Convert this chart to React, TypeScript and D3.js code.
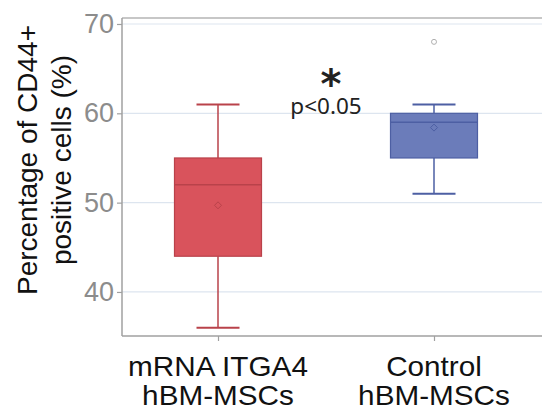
import React, { useEffect, useRef } from "react";
import * as d3 from "d3";

// box plot stats
const groups = ["mRNA ITGA4|hBM-MSCs", "Control|hBM-MSCs"];
const whiskerLow = [36, 51];
const q1 = [44, 55];
const median = [52, 59];
const q3 = [55, 60];
const whiskerHigh = [61, 61];
const means = [49.7, 58.4];
const outliers = [[], [68]];
const yTicks = [40, 50, 60, 70];

const fills = ["#d9535c", "#6b7cba"];
const strokes = ["#b9424a", "#4d5fa3"];

const W = 542;
const H = 411;
const LEFT = 122;
const TOP = 18;
const BOTTOM = 336;

const App = () => {
  const ref = useRef<SVGSVGElement>(null);

  useEffect(() => {
    const svg = d3.select(ref.current);
    svg.selectAll("*").remove();

    const y = d3.scaleLinear().domain([35.07, 70.67]).range([BOTTOM, TOP]);
    const x = d3.scalePoint().domain(groups).range([218, 434]);
    const boxW = 87;
    const capW = 43;

    // grid
    svg.append("g")
      .selectAll("line")
      .data(yTicks)
      .join("line")
      .attr("x1", LEFT)
      .attr("x2", W)
      .attr("y1", d => y(d))
      .attr("y2", d => y(d))
      .attr("stroke", "#dde5ef")
      .attr("stroke-width", 1.2);

    // top border
    svg.append("line")
      .attr("x1", LEFT).attr("x2", W)
      .attr("y1", TOP).attr("y2", TOP)
      .attr("stroke", "#b4b4b4").attr("stroke-width", 1.5);

    // y axis
    const yAxis = svg.append("g")
      .attr("transform", `translate(${LEFT},0)`)
      .call(d3.axisLeft(y).tickValues(yTicks).tickSize(5).tickPadding(3));
    yAxis.select(".domain").attr("stroke", "#a0a0a0").attr("stroke-width", 1.5)
      .attr("d", `M0,${TOP}V${BOTTOM}`);
    yAxis.selectAll(".tick line").attr("stroke", "#a0a0a0").attr("stroke-width", 1.2);
    yAxis.selectAll(".tick text")
      .attr("fill", "#8c8c8c")
      .attr("font-size", 27)
      .attr("font-family", "Liberation Sans, Arial, sans-serif");

    // x axis
    const xAxis = svg.append("g")
      .attr("transform", `translate(0,${BOTTOM})`)
      .call(d3.axisBottom(x).tickSize(5).tickFormat(() => ""));
    xAxis.select(".domain").attr("stroke", "#a0a0a0").attr("stroke-width", 1.5)
      .attr("d", `M${LEFT},0H${W}`);
    xAxis.selectAll(".tick line").attr("stroke", "#a0a0a0").attr("stroke-width", 1.2);

    // x labels
    groups.forEach(g => {
      const lines = g.split("|");
      const t = svg.append("text")
        .attr("text-anchor", "middle")
        .attr("font-size", 27)
        .attr("font-family", "Liberation Sans, Arial, sans-serif")
        .attr("fill", "#111")
        .attr("transform", `translate(${x(g)},0) scale(1.1,1)`);
      lines.forEach((l, i) => {
        t.append("tspan").attr("x", 0).attr("y", 376 + i * 29).text(l);
      });
    });

    // y title
    const yt = svg.append("text")
      .attr("text-anchor", "middle")
      .attr("font-size", 28)
      .attr("font-family", "Liberation Sans, Arial, sans-serif")
      .attr("fill", "#111")
      .attr("transform", "translate(37,160) rotate(-90)");
    yt.append("tspan").attr("x", 0).attr("y", 0).text("Percentage of CD44+");
    yt.append("tspan").attr("x", 0).attr("y", 34).text("positive cells (%)");

    // boxes
    groups.forEach((g, i) => {
      const cx = x(g)!;
      const gg = svg.append("g");
      gg.append("line")
        .attr("x1", cx).attr("x2", cx)
        .attr("y1", y(whiskerLow[i])).attr("y2", y(q1[i]))
        .attr("stroke", strokes[i]).attr("stroke-width", 1.5);
      gg.append("line")
        .attr("x1", cx).attr("x2", cx)
        .attr("y1", y(q3[i])).attr("y2", y(whiskerHigh[i]))
        .attr("stroke", strokes[i]).attr("stroke-width", 1.5);
      [whiskerLow[i], whiskerHigh[i]].forEach(v => {
        gg.append("line")
          .attr("x1", cx - capW / 2).attr("x2", cx + capW / 2)
          .attr("y1", y(v)).attr("y2", y(v))
          .attr("stroke", strokes[i]).attr("stroke-width", 2);
      });
      gg.append("rect")
        .attr("x", cx - boxW / 2)
        .attr("width", boxW)
        .attr("y", y(q3[i]))
        .attr("height", y(q1[i]) - y(q3[i]))
        .attr("fill", fills[i])
        .attr("stroke", strokes[i])
        .attr("stroke-width", 1.2);
      gg.append("line")
        .attr("x1", cx - boxW / 2).attr("x2", cx + boxW / 2)
        .attr("y1", y(median[i])).attr("y2", y(median[i]))
        .attr("stroke", strokes[i]).attr("stroke-width", 1.5);
      // mean diamond
      const my = y(means[i]);
      gg.append("path")
        .attr("d", `M${cx},${my - 3.5}L${cx + 3.5},${my}L${cx},${my + 3.5}L${cx - 3.5},${my}Z`)
        .attr("fill", "none")
        .attr("stroke", strokes[i])
        .attr("stroke-width", 1);
      outliers[i].forEach(o => {
        gg.append("circle")
          .attr("cx", cx).attr("cy", y(o)).attr("r", 2.5)
          .attr("fill", "none").attr("stroke", "#b0b0b0").attr("stroke-width", 1);
      });
    });

    // significance: star and p value in one text block
    const sig = svg.append("text")
      .attr("text-anchor", "middle")
      .attr("fill", "#222");
    sig.append("tspan")
      .attr("x", 331).attr("y", 98)
      .attr("font-size", 40)
      .attr("font-weight", "bold")
      .attr("font-family", "DejaVu Sans, sans-serif")
      .text("*");
    sig.append("tspan")
      .attr("x", 326).attr("y", 114)
      .attr("font-size", 22.5)
      .attr("font-family", "Noto Sans, sans-serif")
      .text("p<0.05");
  }, []);

  return <svg ref={ref} width={W} height={H} style={{ display: "block", position: "absolute", left: 0, top: 0 }} />;
};

export default App;
